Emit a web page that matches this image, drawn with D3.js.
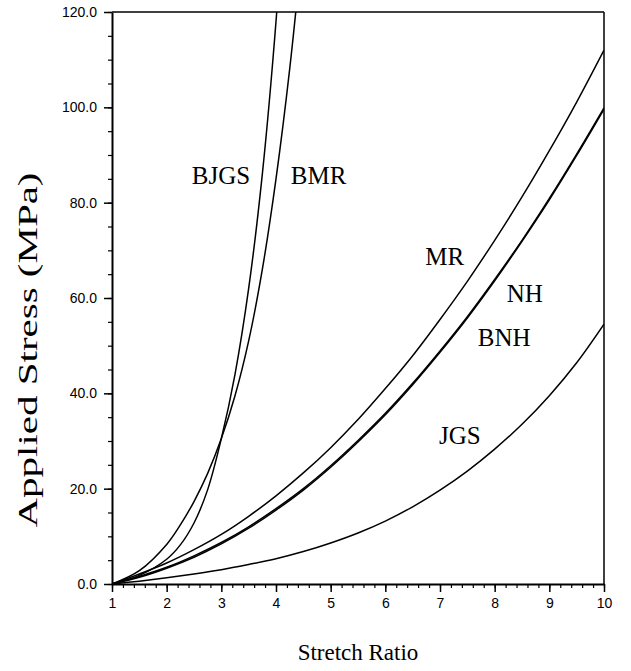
<!DOCTYPE html>
<html>
<head>
<meta charset="utf-8">
<script src="https://cdn.jsdelivr.net/npm/d3@7"></script>
<style>
	body { margin: 0; background: #fff; }
	.tick text { font-family: "Liberation Sans", Arial, sans-serif; font-size: 14px; fill: #000; }
	.curve { fill: none; stroke: #000; stroke-width: 1.5; }
	.label { font-family: "Liberation Serif", "Times New Roman", serif; font-size: 25px; fill: #000; }
</style>
</head>
<body>
<svg id="chart" width="631" height="671"></svg>
<script>
// stretch ratio grid for the slow curves
const stretchGrid = [1, 1.5, 2, 2.5, 3, 3.5, 4, 4.5, 5, 5.5, 6, 6.5, 7, 7.5, 8, 8.5, 9, 9.5, 10];
const mrStress = [0, 2.1, 4.4, 7.2, 10.4, 14.2, 18.5, 23.3, 28.6, 34.5, 41.0, 47.9, 55.5, 63.5, 72.1, 81.2, 90.9, 101.1, 112.0];
const nhStress = [0, 1.6, 3.5, 5.9, 8.7, 12.0, 15.8, 20.0, 24.8, 30.1, 35.8, 42.1, 48.9, 56.1, 63.9, 72.1, 80.9, 90.2, 99.9];
const bnhStress = [0, 1.4, 3.3, 5.6, 8.4, 11.7, 15.5, 19.7, 24.5, 29.8, 35.5, 41.8, 48.6, 55.8, 63.6, 71.9, 80.6, 89.9, 99.6];
const jgsStress = [0, 0.6, 1.3, 2.1, 3.0, 4.1, 5.3, 6.8, 8.6, 10.7, 13.2, 16.2, 19.7, 23.7, 28.3, 33.5, 39.5, 46.4, 54.5];

// stretch ratio grid for the steep curves (they run off the top)
const steepGrid = [1, 1.5, 2, 2.25, 2.5, 2.75, 3, 3.25, 3.5, 3.75, 4, 4.25, 4.5];
const bjgsStress = [0, 1.8, 5.2, 8.2, 12.8, 19.8, 30.5, 44.0, 62.0, 86.0, 118.0, 160.0, 205.0];
const bmrStress = [0, 2.8, 8.3, 12.4, 17.3, 23.2, 30.5, 39.5, 51.0, 66.0, 85.0, 108.0, 136.0];

const curveNames = ["BJGS", "BMR", "MR", "NH", "BNH", "JGS"];
// label anchors in data units (stretch, stress)
const labelStretch = [2.46, 4.27, 6.73, 8.22, 7.69, 6.98];
const labelStress = [83.9, 83.9, 66.9, 59.2, 49.9, 29.4];

const xTicks = [1, 2, 3, 4, 5, 6, 7, 8, 9, 10];
const yTicks = [0, 20, 40, 60, 80, 100, 120];

const width = 631, height = 671;
const margin = { top: 12, right: 27, bottom: 87, left: 112 };

const svg = d3.select("#chart");

const x = d3.scaleLinear().domain([1, 10]).range([margin.left, width - margin.right]);
const y = d3.scaleLinear().domain([0, 120]).range([height - margin.bottom, margin.top]);

svg.append("defs").append("clipPath").attr("id", "plot-clip")
	.append("rect")
	.attr("x", margin.left).attr("y", margin.top)
	.attr("width", x(10) - x(1)).attr("height", y(0) - y(120));

// frame: top and right
svg.append("line").attr("x1", x(1)).attr("x2", x(10)).attr("y1", y(120)).attr("y2", y(120))
	.attr("stroke", "#000").attr("stroke-width", 1.5);
svg.append("line").attr("x1", x(10)).attr("x2", x(10)).attr("y1", y(120)).attr("y2", y(0))
	.attr("stroke", "#000").attr("stroke-width", 1.5);

// minor ticks
svg.append("g")
	.attr("transform", `translate(0,${y(0)})`)
	.call(d3.axisBottom(x).tickValues(d3.range(1, 10.01, 0.2)).tickSize(4).tickFormat(""))
	.call(g => g.select(".domain").remove())
	.call(g => g.selectAll("line").attr("stroke-width", 1.2));
svg.append("g")
	.attr("transform", `translate(${x(1)},0)`)
	.call(d3.axisLeft(y).tickValues(d3.range(0, 121, 5)).tickSize(4).tickFormat(""))
	.call(g => g.select(".domain").remove())
	.call(g => g.selectAll("line").attr("stroke-width", 1.2));

// major axes
svg.append("g")
	.attr("transform", `translate(0,${y(0)})`)
	.call(d3.axisBottom(x).tickValues(xTicks).tickSize(8).tickSizeOuter(0).tickPadding(6).tickFormat(d3.format("d")))
	.call(g => g.select(".domain").attr("stroke-width", 2))
	.call(g => g.selectAll(".tick line").attr("stroke-width", 1.5));
svg.append("g")
	.attr("transform", `translate(${x(1)},0)`)
	.call(d3.axisLeft(y).tickValues(yTicks).tickSize(8).tickSizeOuter(0).tickPadding(7).tickFormat(d3.format(".1f")))
	.call(g => g.select(".domain").attr("stroke-width", 2))
	.call(g => g.selectAll(".tick line").attr("stroke-width", 1.5));

// curves
const line = d3.line()
	.x(d => x(d[0]))
	.y(d => y(d[1]))
	.curve(d3.curveCatmullRom.alpha(0.5));

const series = [
	d3.zip(steepGrid, bjgsStress),
	d3.zip(steepGrid, bmrStress),
	d3.zip(stretchGrid, mrStress),
	d3.zip(stretchGrid, nhStress),
	d3.zip(stretchGrid, bnhStress),
	d3.zip(stretchGrid, jgsStress)
];

svg.append("g")
	.attr("clip-path", "url(#plot-clip)")
	.selectAll("path")
	.data(series)
	.join("path")
	.attr("class", "curve")
	.attr("d", line);

// curve labels
svg.append("g")
	.selectAll("text")
	.data(curveNames)
	.join("text")
	.attr("class", "label")
	.attr("x", (d, i) => x(labelStretch[i]))
	.attr("y", (d, i) => y(labelStress[i]))
	.text(d => d);

// axis titles
svg.append("text")
	.attr("x", (x(1) + x(10)) / 2)
	.attr("y", 660)
	.attr("text-anchor", "middle")
	.style("font-family", '"Liberation Serif", "Times New Roman", serif')
	.style("font-size", "23px")
	.text("Stretch Ratio");

svg.append("text")
	.attr("transform", `translate(37,${(y(0) + y(120)) / 2 + 52}) rotate(-90)`)
	.attr("text-anchor", "middle")
	.attr("textLength", 355)
	.attr("lengthAdjust", "spacingAndGlyphs")
	.style("font-family", '"Liberation Serif", "Times New Roman", serif')
	.style("font-size", "27px")
	.text("Applied Stress (MPa)");
</script>
</body>
</html>
